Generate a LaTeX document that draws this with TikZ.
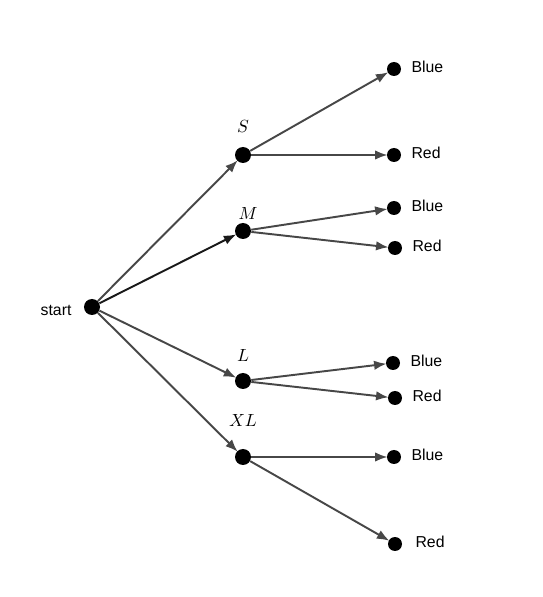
\documentclass[tikz,border=0pt]{standalone}
\usepackage{fontspec}
\setsansfont{Liberation Sans}
\usetikzlibrary{arrows.meta, positioning}

\begin{document}
\begin{tikzpicture}[
    dot/.style={circle, fill=black, inner sep=0pt, minimum size=0.32cm},
    leaf/.style={circle, fill=black, inner sep=0pt, minimum size=0.28cm},
    txt/.style={font=\sffamily\fontsize{9}{10}\selectfont, label distance=0.08cm, yshift=0.04cm},
    lvl/.style={font=\fontsize{10}{11}\selectfont, label distance=0.16cm},
    arrow/.style={-{Latex[length=0.25cm, width=0.19cm]}, line width=1.1pt, draw=black!72, shorten >=-0.5pt},
    main/.style={arrow, draw=black!90}
]
\useasboundingbox (0,0) rectangle (10.86,11.94);

% root
\node[dot, label={[txt, label distance=0.12cm, yshift=-0.1cm]left:start}] (start) at (1.84,5.80) {};

% sizes
\node[dot, label={[lvl]above:$S$}] (s) at (4.86,8.84) {};
\node[dot, label={[lvl, label distance=-0.06cm, xshift=0.1cm]above:$M$}] (m) at (4.86,7.32) {};
\node[dot, label={[lvl, label distance=0.1cm]above:$L$}] (l) at (4.86,4.32) {};
\node[dot, label={[lvl, label distance=0.32cm]above:$XL$}] (xl) at (4.86,2.80) {};

% colours
\node[leaf, label={[txt]right:Blue}] (sblue) at (7.88,10.56) {};
\node[leaf, label={[txt]right:Red}] (sred) at (7.88,8.84) {};
\node[leaf, label={[txt]right:Blue}] (mblue) at (7.88,7.78) {};
\node[leaf, label={[txt]right:Red}] (mred) at (7.90,6.98) {};
\node[leaf, label={[txt]right:Blue}] (lblue) at (7.86,4.68) {};
\node[leaf, label={[txt]right:Red}] (lred) at (7.90,3.98) {};
\node[leaf, label={[txt]right:Blue}] (xlblue) at (7.88,2.80) {};
\node[leaf, label={[txt, xshift=0.06cm]right:Red}] (xlred) at (7.90,1.06) {};

% Arrows
\draw[arrow] (start) -- (s);
\draw[main] (start) -- (m);
\draw[arrow] (start) -- (l);
\draw[arrow] (start) -- (xl);

\draw[arrow] (s) -- (sblue);
\draw[arrow] (s) -- (sred);
\draw[arrow] (m) -- (mblue);
\draw[arrow] (m) -- (mred);
\draw[arrow] (l) -- (lblue);
\draw[arrow] (l) -- (lred);
\draw[arrow] (xl) -- (xlblue);
\draw[arrow] (xl) -- (xlred);

\end{tikzpicture}
\end{document}
